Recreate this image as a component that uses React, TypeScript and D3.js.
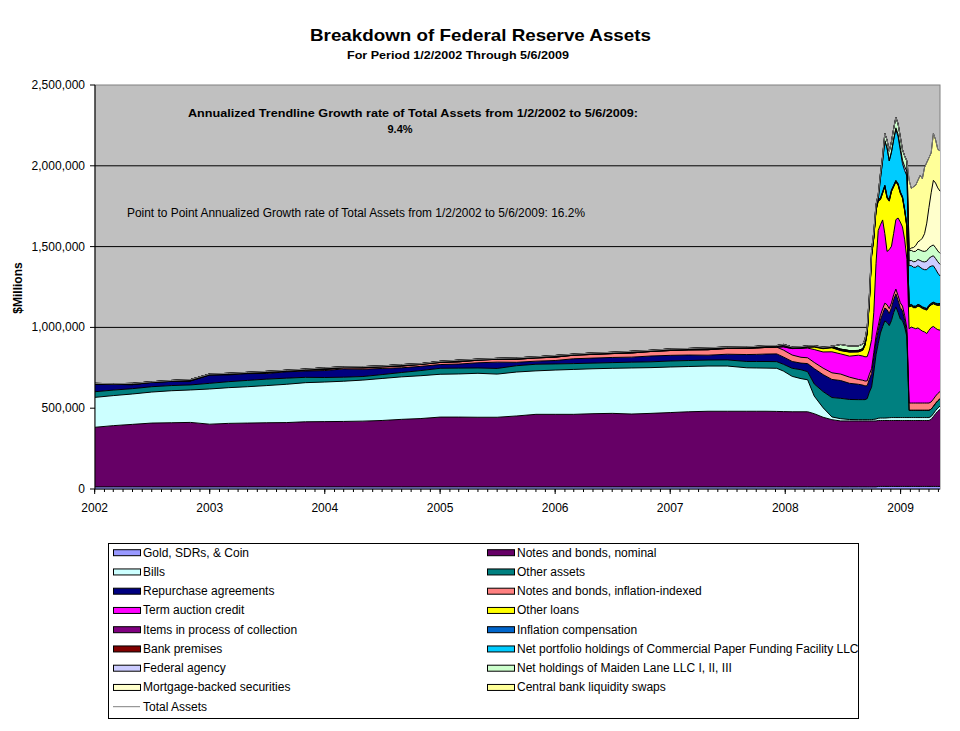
import React from 'react';
import * as d3 from 'd3';

// sample dates (bi-monthly early on, weekly from Sep 2008); all values in $ billions
const dates = [
  '2002-01-02', '2002-03-01', '2002-05-01', '2002-07-01', '2002-09-01', '2002-11-01',
  '2003-01-01', '2003-03-01', '2003-05-01', '2003-07-01', '2003-09-01', '2003-11-01',
  '2004-01-01', '2004-03-01', '2004-05-01', '2004-07-01', '2004-09-01', '2004-11-01',
  '2005-01-01', '2005-03-01', '2005-05-01', '2005-07-01', '2005-09-01', '2005-11-01',
  '2006-01-01', '2006-03-01', '2006-05-01', '2006-07-01', '2006-09-01', '2006-11-01',
  '2007-01-01', '2007-03-01', '2007-05-01', '2007-07-01', '2007-09-01',
  '2007-10-01', '2007-11-01', '2007-12-05', '2007-12-26', '2008-01-23', '2008-02-20',
  '2008-03-12', '2008-04-02', '2008-04-30', '2008-05-28', '2008-06-25', '2008-07-23', '2008-08-20',
  '2008-09-03', '2008-09-10', '2008-09-17', '2008-09-24', '2008-10-01', '2008-10-08',
  '2008-10-15', '2008-10-22', '2008-10-29', '2008-11-05', '2008-11-12', '2008-11-19',
  '2008-11-26', '2008-12-03', '2008-12-10', '2008-12-17', '2008-12-24', '2008-12-31',
  '2009-01-07', '2009-01-14', '2009-01-21', '2009-01-28', '2009-02-04', '2009-02-11',
  '2009-02-18', '2009-02-25', '2009-03-04', '2009-03-11', '2009-03-18', '2009-03-25',
  '2009-04-01', '2009-04-08', '2009-04-15', '2009-04-22', '2009-04-29', '2009-05-06'
];

const gold = [
  13, 13, 13, 13, 13, 13, 13, 13, 13, 13, 13, 13, 13, 13, 13, 13, 13, 13,
  13, 13, 13, 13, 13, 13, 13, 13, 13, 13, 13, 13, 13, 13, 13, 13, 13,
  13, 13, 13, 13, 13, 13, 13, 13, 13, 13, 13, 13, 13,
  13, 13, 13, 13, 13, 13, 13, 16, 16, 16, 16, 16, 16, 16, 16, 16, 16, 16,
  16, 16, 16, 16, 16, 16, 16, 16, 16, 16, 16, 16, 16, 16, 16, 16, 16, 16
];
const notesNominal = [
  369, 379, 387, 395, 397, 399, 388, 393, 395, 397, 398, 403, 404, 405, 407, 411, 418, 423,
  432, 432, 431, 431, 439, 449, 449, 449, 453, 455, 451, 455, 460, 465, 468, 468, 468,
  468, 468, 467, 466, 465, 465, 465, 453, 431, 416, 408, 408, 408,
  408, 408, 408, 408, 408, 408, 408, 408, 408, 408, 408, 408, 408, 408, 408, 408, 408, 408,
  408, 408, 408, 408, 408, 408, 408, 408, 408, 408, 408, 408, 408, 415, 432, 450, 465, 477
];
const bills = [
  185, 186, 188, 192, 198, 201, 218, 221, 225, 230, 237, 242, 245, 249, 254, 260, 263, 265,
  265, 267, 272, 267, 272, 269, 274, 278, 278, 279, 285, 283, 282, 280, 280, 280, 269,
  268, 267, 267, 251, 219, 205, 198, 109, 59, 17, 14, 9, 8,
  8, 8, 8, 8, 8, 10, 12, 14, 15, 15, 15, 16, 17, 18, 18, 18, 18, 18,
  18, 18, 18, 18, 18, 18, 18, 18, 18, 18, 18, 18, 18, 18, 18, 19, 20, 20
];
const otherAssets = [
  35, 34, 33, 33, 32, 31, 35, 37, 39, 40, 38, 33, 28, 25, 22, 24, 27, 32,
  37, 36, 33, 35, 39, 41, 38, 36, 35, 35, 36, 36, 37, 37, 37, 38, 39,
  40, 41, 41, 42, 50, 55, 50, 75, 100, 120, 126, 124, 124,
  124, 124, 130, 171, 201, 293, 398, 462, 526, 566, 601, 590, 570, 600, 650, 685, 650, 610,
  600, 560, 500, 45, 45, 45, 45, 45, 45, 45, 45, 45, 45, 45, 45, 45, 45, 45
];
const repos = [
  45, 35, 25, 27, 26, 25, 51, 42, 42, 35, 39, 39, 43, 51, 45, 38, 29, 26,
  23, 25, 32, 39, 21, 19, 21, 30, 31, 32, 31, 36, 35, 34, 30, 35, 43,
  44, 46, 48, 45, 42, 41, 50, 95, 105, 112, 110, 100, 95,
  90, 85, 80, 80, 85, 90, 85, 80, 80, 80, 80, 80, 75, 80, 80, 80, 75, 70,
  60, 40, 20, 0, 0, 0, 0, 0, 0, 0, 0, 0, 0, 0, 0, 0, 0, 0
];
const notesIndexed = [
  0, 0, 0, 0, 0, 0, 2, 3, 4, 5, 5, 6, 7, 8, 9, 10, 11, 12,
  13, 14, 16, 18, 19, 20, 21, 22, 23, 24, 26, 28, 30, 32, 34, 36, 38,
  40, 41, 42, 43, 40, 36, 36, 38, 40, 41, 40, 38, 30,
  30, 30, 30, 30, 30, 30, 30, 30, 30, 30, 30, 30, 30, 30, 30, 30, 30, 30,
  30, 30, 30, 45, 45, 45, 45, 45, 45, 45, 45, 45, 45, 45, 45, 45, 45, 45
];
const itemsInProcess = [
  5, 3, 6, 2, 4, 7, 3, 5, 2, 6, 3, 4, 8, 2, 5, 3, 6, 2,
  4, 7, 3, 2, 5, 3, 6, 2, 4, 3, 5, 2, 4, 3, 6, 2, 4,
  3, 5, 3, 8, 3, 3, 2, 2, 2, 2, 2, 2, 2,
  2, 2, 2, 2, 2, 2, 2, 2, 2, 2, 2, 2, 2, 2, 2, 2, 2, 2,
  2, 2, 2, 2, 2, 2, 2, 2, 2, 2, 2, 2, 2, 2, 2, 2, 2, 2
];
const inflationComp = [
  0, 0, 0, 0, 0, 0, 0, 0, 0, 0, 0, 0, 0.5, 0.6, 0.7, 0.8, 0.9, 1.0,
  1.1, 1.2, 1.4, 1.6, 1.8, 2.0, 2.2, 2.4, 2.6, 2.8, 3.0, 3.2, 3.4, 3.6, 3.8, 4.0, 4.2,
  4.3, 4.4, 4.5, 4.6, 4.7, 4.8, 4.9, 5.0, 5.0, 5.1, 5.2, 5.3, 5.4,
  5.5, 5.5, 5.5, 5.6, 5.6, 5.6, 5.6, 5.6, 5.6, 5.6, 5.7, 5.7, 5.7, 5.7, 5.7, 5.7, 5.7, 5.7,
  5.7, 5.7, 5.7, 6.0, 6.0, 6.0, 6.0, 6.0, 6.0, 6.0, 6.0, 6.0, 6.0, 6.0, 6.0, 6.0, 6.0, 6.0
];
const bankPremises = [
  1.6, 1.6, 1.6, 1.6, 1.6, 1.6, 1.7, 1.7, 1.7, 1.7, 1.7, 1.7, 1.7, 1.7, 1.7, 1.8, 1.8, 1.8,
  1.8, 1.8, 1.8, 1.8, 1.8, 1.8, 1.9, 1.9, 1.9, 1.9, 1.9, 1.9, 2.0, 2.0, 2.0, 2.0, 2.0,
  2.0, 2.0, 2.0, 2.0, 2.0, 2.0, 2.0, 2.0, 2.0, 2.0, 2.0, 2.0, 2.0,
  2.1, 2.1, 2.1, 2.1, 2.1, 2.1, 2.1, 2.1, 2.1, 2.1, 2.1, 2.1, 2.1, 2.1, 2.1, 2.1, 2.1, 2.1,
  2.1, 2.1, 2.1, 2.2, 2.2, 2.2, 2.2, 2.2, 2.2, 2.2, 2.2, 2.2, 2.2, 2.2, 2.2, 2.2, 2.2, 2.2
];

// these programs start late; values run from their first date to 5/6/2009
const termAuction = [
  20, 40, 55, 60, 80, 100, 130, 125, 130, 150,
  150, 150, 150, 150, 180, 250, 450, 590, 560, 550, 430, 330, 365, 350, 380, 430, 480, 500,
  490, 470, 430, 460, 470, 465, 460, 465, 455, 445, 440, 430, 450, 460, 450, 420, 395, 380
];
const otherLoans = [
  1, 5, 15, 20, 25, 20, 25, 20,
  35, 70, 143, 302, 517, 458, 326, 182, 155, 165, 290, 330, 300, 338, 288, 233, 203, 178,
  178, 178, 198, 135, 130, 125, 130, 135, 140, 140, 140, 145, 145, 140, 140, 145, 150, 155
];
const cpff = [
  122, 192, 275, 300, 240, 235, 280, 315, 290, 256,
  203, 240, 307, 245, 240, 240, 240, 240, 235, 235, 235, 240, 235, 230, 225, 210, 190, 170
];
const federalAgency = [
  5, 10, 15, 19, 22, 25, 28, 30, 32, 34, 36, 38, 42, 45, 48, 52, 55, 58, 62, 66, 70, 72
];
const maidenLane = [
  29, 28, 28,
  29, 29, 29, 29, 29, 29, 29, 29, 29, 29, 45, 50, 60, 65, 65, 65, 65, 65,
  65, 65, 65, 62, 62, 63, 63, 64, 64, 65, 65, 66, 66, 66, 67, 67, 67, 68
];
const mbs = [5, 15, 25, 35, 45, 60, 80, 110, 170, 250, 330, 400, 400, 390, 385];
const cbSwaps = [431, 369, 376, 374, 381, 402, 368, 410, 375, 307, 247, 290, 268, 239, 249];

const yTicks = [0, 500000, 1000000, 1500000, 2000000, 2500000];

// zeros before a program existed
function late(values: number[]) {
  return new Array(dates.length - values.length).fill(0).concat(values);
}

const layers = [
  { key: 'gold', label: 'Gold, SDRs, & Coin', color: '#9999FF', values: gold },
  { key: 'notes', label: 'Notes and bonds, nominal', color: '#660066', values: notesNominal },
  { key: 'bills', label: 'Bills', color: '#CCFFFF', values: bills },
  { key: 'other', label: 'Other assets', color: '#008080', values: otherAssets },
  { key: 'repo', label: 'Repurchase agreements', color: '#000080', values: repos },
  { key: 'tips', label: 'Notes and bonds, inflation-indexed', color: '#FF8080', values: notesIndexed },
  { key: 'tac', label: 'Term auction credit', color: '#FF00FF', values: late(termAuction) },
  { key: 'loans', label: 'Other loans', color: '#FFFF00', values: late(otherLoans) },
  { key: 'items', label: 'Items in process of collection', color: '#800080', values: itemsInProcess },
  { key: 'infl', label: 'Inflation compensation', color: '#0066CC', values: inflationComp },
  { key: 'bank', label: 'Bank premises', color: '#800000', values: bankPremises },
  { key: 'cpff', label: 'Net portfolio holdings of Commercial Paper Funding Facility LLC', color: '#00CCFF', values: late(cpff) },
  { key: 'agency', label: 'Federal agency', color: '#CCCCFF', values: late(federalAgency) },
  { key: 'maiden', label: 'Net holdings of Maiden Lane LLC I, II, III', color: '#CCFFCC', values: late(maidenLane) },
  { key: 'mbs', label: 'Mortgage-backed securities', color: '#FFFFCC', values: late(mbs) },
  { key: 'swaps', label: 'Central bank liquidity swaps', color: '#FFFF99', values: late(cbSwaps) }
];

const font = "'Liberation Sans', Arial, sans-serif";
const plot = { left: 95, right: 940, top: 85, bottom: 489 };

export default function App() {
  const parse = d3.timeParse('%Y-%m-%d');
  const rows = dates.map((d, i) => {
    const row: any = { date: parse(d) };
    layers.forEach(l => { row[l.key] = l.values[i] * 1000; });
    return row;
  });
  const stacked = d3.stack<any>().keys(layers.map(l => l.key))(rows);

  const x = d3.scaleTime()
    .domain([parse('2002-01-02') as Date, parse('2009-05-06') as Date])
    .range([plot.left, plot.right]);
  const y = d3.scaleLinear().domain([0, 2500000]).range([plot.bottom, plot.top]);

  const area = d3.area<any>()
    .x(d => x(d.data.date))
    .y0(d => y(d[0]))
    .y1(d => y(d[1]));
  const edge = d3.line<any>()
    .x(d => x(d.data.date))
    .y(d => y(d[1]));
  const totalLine = d3.line<any>()
    .x(d => x(d.date))
    .y(d => y(layers.reduce((s, l) => s + d[l.key], 0)));

  const years = d3.timeYear.range(new Date(2002, 0, 1), new Date(2009, 4, 7));
  const months = d3.timeMonth.range(new Date(2002, 0, 1), new Date(2009, 4, 7));

  const legendItems = [
    ...layers.map(l => ({ label: l.label, color: l.color, line: false })),
    { label: 'Total Assets', color: '#808080', line: true }
  ];

  return (
    <svg width={960} height={731} style={{ position: 'absolute', left: 0, top: 0, background: '#fff' }}
      fontFamily={font}>
      <text x={480.5} y={41} textAnchor="middle" fontSize={17} fontWeight="bold"
        textLength={341} lengthAdjust="spacingAndGlyphs">Breakdown of Federal Reserve Assets</text>
      <text x={458} y={59} textAnchor="middle" fontSize={11} fontWeight="bold"
        textLength={222} lengthAdjust="spacingAndGlyphs">For Period 1/2/2002 Through 5/6/2009</text>

      <rect x={plot.left} y={plot.top} width={plot.right - plot.left} height={plot.bottom - plot.top}
        fill="#C0C0C0" stroke="#808080" />
      {yTicks.slice(1, -1).map(t => (
        <line key={t} x1={plot.left} x2={plot.right} y1={y(t)} y2={y(t)} stroke="#000" />
      ))}

      {stacked.map((s, i) => (
        <path key={s.key} d={area(s) || ''} fill={layers[i].color} />
      ))}
      {stacked.map(s => (
        <path key={'e' + s.key} d={edge(s) || ''} fill="none" stroke="#000" strokeWidth={1} />
      ))}
      <path d={totalLine(rows) || ''} fill="none" stroke="#808080" strokeWidth={1} />

      <text x={413} y={117} textAnchor="middle" fontSize={11} fontWeight="bold"
        textLength={450} lengthAdjust="spacingAndGlyphs">
        Annualized Trendline Growth rate of Total Assets from 1/2/2002 to 5/6/2009:
      </text>
      <text x={400} y={133} textAnchor="middle" fontSize={11} fontWeight="bold">9.4%</text>
      <text x={127} y={217} fontSize={12} textLength={458} lengthAdjust="spacingAndGlyphs">
        Point to Point Annualized Growth rate of Total Assets from 1/2/2002 to 5/6/2009: 16.2%
      </text>

      <line x1={plot.left} x2={plot.left} y1={plot.top} y2={plot.bottom} stroke="#000" />
      <line x1={plot.left} x2={plot.right} y1={plot.bottom} y2={plot.bottom} stroke="#000" />
      {yTicks.map(t => (
        <g key={t}>
          <line x1={plot.left - 5} x2={plot.left} y1={y(t)} y2={y(t)} stroke="#000" />
          <text x={85} y={y(t) + 4} textAnchor="end" fontSize={12}>{d3.format(',')(t)}</text>
        </g>
      ))}
      {months.map(m => (
        <line key={+m} x1={x(m)} x2={x(m)} y1={plot.bottom} y2={plot.bottom + 3} stroke="#000" />
      ))}
      {years.map(yr => (
        <g key={+yr}>
          <line x1={x(yr)} x2={x(yr)} y1={plot.bottom} y2={plot.bottom + 5} stroke="#000" />
          <text x={x(yr)} y={512} textAnchor="middle" fontSize={12}>{yr.getFullYear()}</text>
        </g>
      ))}
      <text transform="translate(22,288) rotate(-90)" textAnchor="middle" fontSize={12}
        fontWeight="bold">$Millions</text>

      <rect x={108.5} y={543.5} width={750} height={175} fill="#fff" stroke="#000" />
      {legendItems.map((item, i) => {
        const col = i % 2;
        const row = Math.floor(i / 2);
        const cy = 552.7 + row * 19.25;
        const sx = col === 0 ? 113 : 487;
        return (
          <g key={item.label}>
            {item.line
              ? <line x1={sx} x2={sx + 27} y1={cy} y2={cy} stroke={item.color} />
              : <rect x={sx + 0.5} y={cy - 3} width={27} height={6} fill={item.color} stroke="#000" />}
            <text x={sx + 30} y={cy + 4} fontSize={12}>{item.label}</text>
          </g>
        );
      })}
    </svg>
  );
}
